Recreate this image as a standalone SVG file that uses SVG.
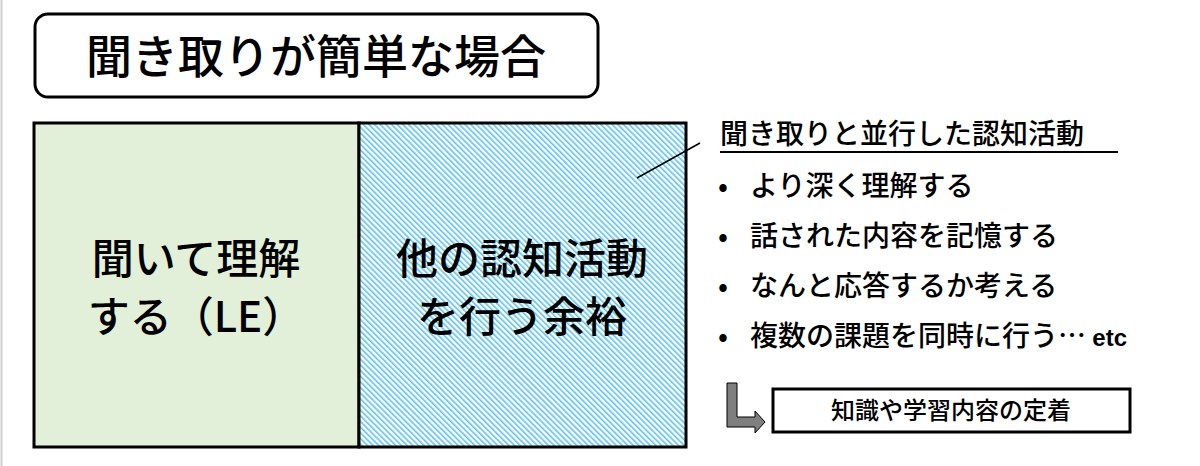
<svg xmlns="http://www.w3.org/2000/svg" width="1200" height="466" viewBox="0 0 1200 466">
<style>
text{font-family:"Noto Sans CJK JP","Liberation Sans",sans-serif;fill:#000;font-weight:500}
.b{font-size:28px}
</style>
<defs>
<pattern id="h" width="4" height="4" patternUnits="userSpaceOnUse" patternTransform="rotate(-45)">
<rect width="4" height="4" fill="#fff"/><rect width="1.6" height="4" fill="#5CC3EC"/>
</pattern>
</defs>
<rect width="1200" height="466" fill="#fff"/>
<line x1="1.5" y1="0" x2="1.5" y2="466" stroke="#d0d0d0" stroke-width="2"/>
<g id="title"><rect x="35" y="14" width="563" height="83" rx="13" fill="#fff" stroke="#000" stroke-width="3"/>
<text x="316" y="73" font-size="46" font-weight="700" text-anchor="middle">聞き取りが簡単な場合</text></g>
<g id="le"><rect x="34" y="123" width="325" height="324" fill="#E2EFD9" stroke="#000" stroke-width="3"/>
<text x="196" y="274" font-size="42" text-anchor="middle">聞いて理解</text>
<text x="196" y="332" font-size="42" text-anchor="middle">する（LE）</text></g>
<g id="other"><rect x="359" y="123" width="327" height="324" fill="url(#h)" stroke="#000" stroke-width="3"/>
<text x="522" y="274" font-size="42" text-anchor="middle">他の認知活動</text>
<text x="522" y="332" font-size="42" text-anchor="middle">を行う余裕</text></g>
<g id="connectors">
<line x1="637" y1="178" x2="700" y2="143" stroke="#000" stroke-width="1.5"/>
<path d="M727 383 H737 V417 H755 V411 L765 422 L755 433 V427 H727 Z" fill="#7f7f7f" stroke="#000" stroke-width="1"/>
</g>
<g id="list">
<text x="720" y="144" class="b">聞き取りと並行した認知活動</text>
<line x1="720" y1="152" x2="1118" y2="152" stroke="#000" stroke-width="2"/>
<text x="718" y="196" class="b">•</text><text x="750" y="196" class="b">より深く理解する</text>
<text x="718" y="246" class="b">•</text><text x="750" y="246" class="b">話された内容を記憶する</text>
<text x="718" y="296" class="b">•</text><text x="750" y="296" class="b">なんと応答するか考える</text>
<text x="718" y="346" class="b">•</text><text x="750" y="346" class="b">複数の課題を同時に行う… <tspan font-family="Liberation Sans" font-weight="700" font-size="24">etc</tspan></text>
</g>
<g id="result"><rect x="773" y="389" width="357" height="43" fill="#fff" stroke="#000" stroke-width="3"/>
<text x="951" y="419" font-size="24" text-anchor="middle">知識や学習内容の定着</text></g>
</svg>
